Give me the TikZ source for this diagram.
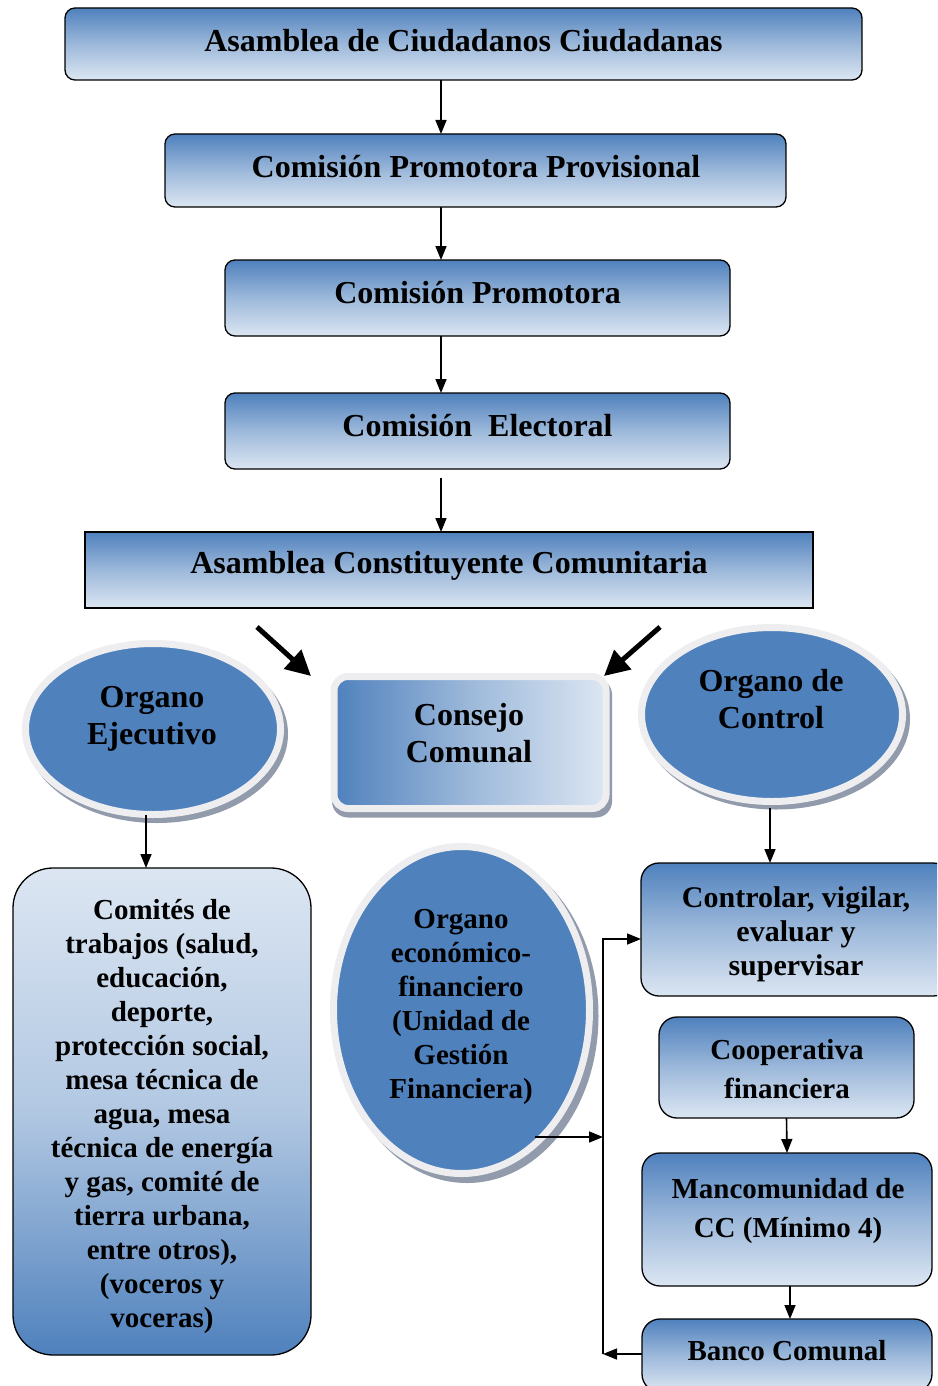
\documentclass[tikz,border=0pt]{standalone}
\usepackage{fontspec}
\setmainfont{Liberation Serif}
\usetikzlibrary{arrows.meta,shapes.geometric,calc}
\definecolor{cblue}{RGB}{79,129,189}
\definecolor{clight}{RGB}{220,230,242}
\definecolor{cring}{RGB}{238,238,240}
\definecolor{cshadow}{RGB}{145,155,172}
\begin{document}
\begin{tikzpicture}[x=1pt,y=-1pt,
  every node/.style={inner sep=0pt,outer sep=0pt},
  ft/.style={font=\fontsize{32}{37}\selectfont\bfseries},
  fb/.style={font=\fontsize{29}{34}\selectfont\bfseries,align=center},
  fw/.style={font=\fontsize{29}{39}\selectfont\bfseries,align=center},
  fo/.style={font=\fontsize{32}{37}\selectfont\bfseries,align=center},
  hbox/.style={draw=black,line width=1.3pt,rounded corners=10pt,top color=cblue,bottom color=clight,middle color=cblue!45!clight,align=center},
  sbox/.style={hbox,rounded corners=18pt},
  arr/.style={line width=1.6pt,-{Triangle[length=14pt,width=11pt]}},
  bigarr/.style={line width=5pt,-{Triangle[length=25pt,width=25pt]}},
  oval/.style={ellipse,draw=cring,line width=7pt,fill=cblue},
  ovalshadow/.style={ellipse,fill=cshadow},
]
\useasboundingbox (0,0) rectangle (937,1386);
\clip (0,0) rectangle (937,1386);
\fill[white] (0,0) rectangle (937,1386);

% top chain
\node[hbox,minimum width=797,minimum height=72] (b1) at (463.5,44) {};
\node[ft] (b1t) at (463.5,41) {Asamblea de Ciudadanos Ciudadanas};
\node[hbox,minimum width=621,minimum height=73] (b2) at (475.5,170.5) {};
\node[ft] (b2t) at (476,167) {Comisión Promotora Provisional};
\node[hbox,minimum width=505,minimum height=76] (b3) at (477.5,298) {};
\node[ft] (b3t) at (477.5,293) {Comisión Promotora};
\node[hbox,minimum width=505,minimum height=76] (b4) at (477.5,431) {};
\node[ft] (b4t) at (477.5,426) {Comisión\ \ Electoral};
\node[hbox,rounded corners=0pt,minimum width=728,minimum height=76] (b5) at (449,570) {};
\node[ft] (b5t) at (449,566) {Asamblea Constituyente Comunitaria};

\coordinate (ax) at (441,0);
\draw[arr] (b1.south -| ax) -- (b2.north -| ax);
\draw[arr] (b2.south -| ax) -- (b3.north -| ax);
\draw[arr] (b3.south -| ax) -- (b4.north -| ax);
\draw[arr,shorten <=9pt] (b4.south -| ax) -- (b5.north -| ax);

% thick arrows
\coordinate (tl) at (257,627); \coordinate (tle) at (311,676);
\coordinate (tr) at (660,627); \coordinate (tre) at (604,676);
\draw[bigarr] (tl) -- (tle);
\draw[bigarr] (tr) -- (tre);

% left ellipse
\node[ovalshadow,minimum width=262,minimum height=178] (oes) at (157,734) {};
\node[oval,minimum width=255,minimum height=171] (oe) at (153,729) {};
\node[fo] (oet) at (152,718.5) {Organo\\Ejecutivo};

% consejo comunal
\node[rectangle,rounded corners=16pt,fill=cshadow,minimum width=280,minimum height=139] (ccs) at (472,748) {};
\node[rectangle,rounded corners=14pt,draw=cring,line width=7pt,left color=cblue,right color=clight,middle color=cblue!45!clight,minimum width=272,minimum height=132] (cc) at (470,742.5) {};
\node[fo] (cct) at (469,733.5) {Consejo\\Comunal};

% right ellipse
\node[ovalshadow,minimum width=268,minimum height=181] (ocs) at (776,719) {};
\node[oval,minimum width=261,minimum height=174] (oc) at (772,714.5) {};
\node[fo] (oct) at (771,699.5) {Organo de\\Control};

% left big box
\node[draw=black,line width=1.3pt,rounded corners=40pt,top color=clight,bottom color=cblue,middle color=clight!70!cblue,minimum width=298,minimum height=487] (com) at (162,1111.5) {};
\node[fb] (comt) at (162,1116) {Comités de\\trabajos (salud,\\educación,\\deporte,\\protección social,\\mesa técnica de\\agua, mesa\\técnica de energía\\y gas, comité de\\tierra urbana,\\entre otros),\\(voceros y\\voceras)};

% middle ellipse
\node[ovalshadow,minimum width=263,minimum height=334] (oefs) at (467,1016) {};
\node[oval,minimum width=256,minimum height=327] (oef) at (461.5,1010) {};
\node[fb] (oeft) at (461,1007) {Organo\\económico-\\financiero\\(Unidad de\\Gestión\\Financiera)};

% right boxes
\node[sbox,minimum width=310,minimum height=133] (ctrl) at (796,929.5) {};
\node[fb,font=\fontsize{30}{34}\selectfont\bfseries] (ctrlt) at (796,934.5) {Controlar, vigilar,\\evaluar y\\supervisar};
\node[sbox,minimum width=255,minimum height=101] (coop) at (786.5,1067.5) {};
\node[fw] (coopt) at (787,1069.5) {Cooperativa\\financiera};
\node[sbox,minimum width=290,minimum height=133] (manc) at (787,1219.5) {};
\node[fw] (manct) at (788,1211.5) {Mancomunidad de\\CC (Mínimo 4)};
\node[sbox,minimum width=290,minimum height=73] (banco) at (787,1355.5) {};
\node[fb] (bancot) at (787,1351) {Banco Comunal};

% connectors
\coordinate (lx) at (146,0);
\draw[arr] (oe.south -| lx) -- (com.north -| lx);
\coordinate (rx) at (770,0);
\draw[arr,shorten <=6pt] (oc.south -| rx) -- (ctrl.north -| rx);
\draw[arr] (coop.south) -- (manc.north);
\coordinate (mx) at (790,0);
\draw[arr] (manc.south -| mx) -- (banco.north -| mx);

\coordinate (vtop) at (603,939);
\coordinate (vbot) at (603,1354);
\coordinate (eo) at (535,1137);
\draw[arr] (vbot) -- (vtop) -- (vtop -| ctrl.west);
\draw[arr] (eo) -- (eo -| vtop);
\draw[arr] (vbot -| banco.west) -- (vbot);
\end{tikzpicture}
\end{document}
